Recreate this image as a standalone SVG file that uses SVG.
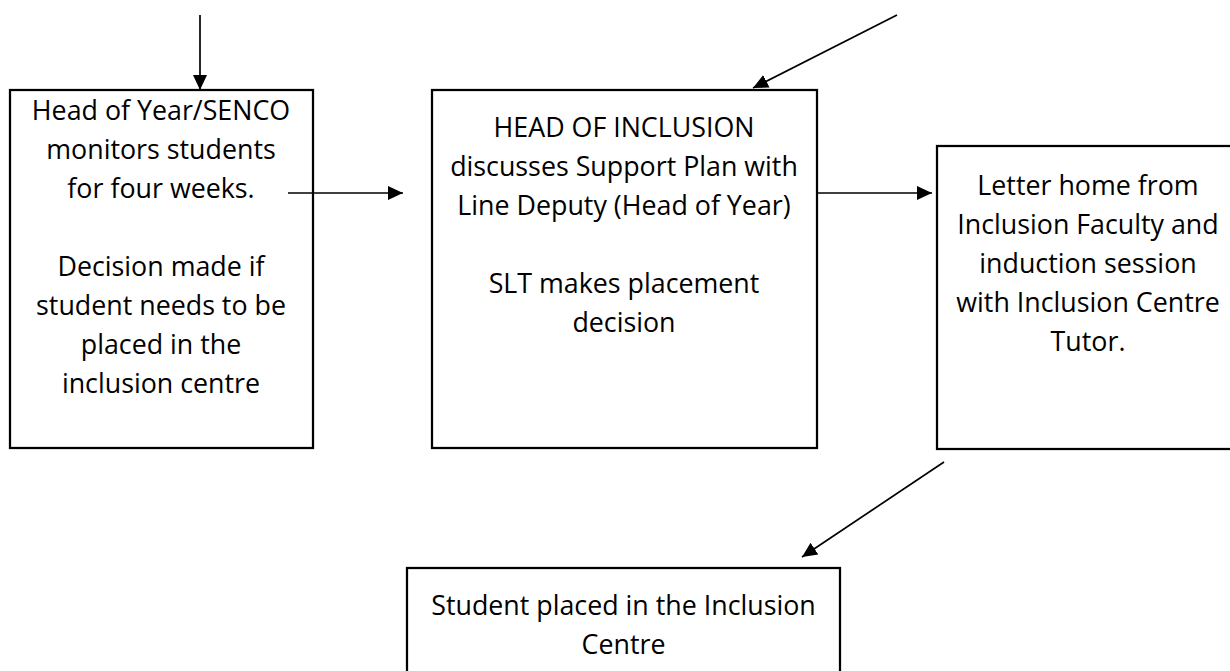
<svg xmlns="http://www.w3.org/2000/svg" width="1230" height="671" viewBox="0 0 1230 671">
  <style>
    .box { fill: #ffffff; stroke: #000000; stroke-width: 2.25; }
    .lbl { font-family: "Open Sans", "Liberation Sans", sans-serif; font-size: 26.8px; fill: #000000; text-anchor: middle; }
    .conn { stroke: #000000; stroke-width: 1.7; fill: none; marker-end: url(#arrow); }
  </style>
  <defs>
    <marker id="arrow" markerUnits="userSpaceOnUse" markerWidth="16" markerHeight="16" viewBox="0 0 16 16" refX="15" refY="8" orient="auto">
      <path d="M0,1 L15,8 L0,15 Z" fill="#000000"/>
    </marker>
  </defs>
  <rect width="1230" height="671" fill="#ffffff"/>

  <g id="node-monitor">
    <rect class="box" x="10" y="90" width="303" height="358"/>
    <text class="lbl" x="161" y="120">Head of Year/SENCO</text>
    <text class="lbl" x="161" y="159">monitors students</text>
    <text class="lbl" x="161" y="198">for four weeks.</text>
    <text class="lbl" x="161" y="276">Decision made if</text>
    <text class="lbl" x="161" y="315">student needs to be</text>
    <text class="lbl" x="161" y="354">placed in the</text>
    <text class="lbl" x="161" y="393">inclusion centre</text>
  </g>

  <g id="node-head-of-inclusion">
    <rect class="box" x="432" y="90" width="385" height="358"/>
    <text class="lbl" x="624" y="137">HEAD OF INCLUSION</text>
    <text class="lbl" x="624" y="176">discusses Support Plan with</text>
    <text class="lbl" x="624" y="215">Line Deputy (Head of Year)</text>
    <text class="lbl" x="624" y="293">SLT makes placement</text>
    <text class="lbl" x="624" y="332">decision</text>
  </g>

  <g id="node-letter-home">
    <rect class="box" x="937" y="146" width="310" height="303"/>
    <text class="lbl" x="1088" y="195">Letter home from</text>
    <text class="lbl" x="1088" y="234">Inclusion Faculty and</text>
    <text class="lbl" x="1088" y="273">induction session</text>
    <text class="lbl" x="1088" y="312">with Inclusion Centre</text>
    <text class="lbl" x="1088" y="351">Tutor.</text>
  </g>

  <g id="node-placed">
    <rect class="box" x="407" y="568" width="433" height="130"/>
    <text class="lbl" x="623.5" y="615">Student placed in the Inclusion</text>
    <text class="lbl" x="623.5" y="654">Centre</text>
  </g>

  <g id="connectors">
    <line class="conn" x1="200" y1="15" x2="200" y2="90"/>
    <line class="conn" x1="288" y1="193" x2="403" y2="193"/>
    <line class="conn" x1="897" y1="15" x2="753" y2="88"/>
    <line class="conn" x1="818" y1="193" x2="932" y2="193"/>
    <line class="conn" x1="944" y1="462" x2="802" y2="557"/>
  </g>
</svg>
